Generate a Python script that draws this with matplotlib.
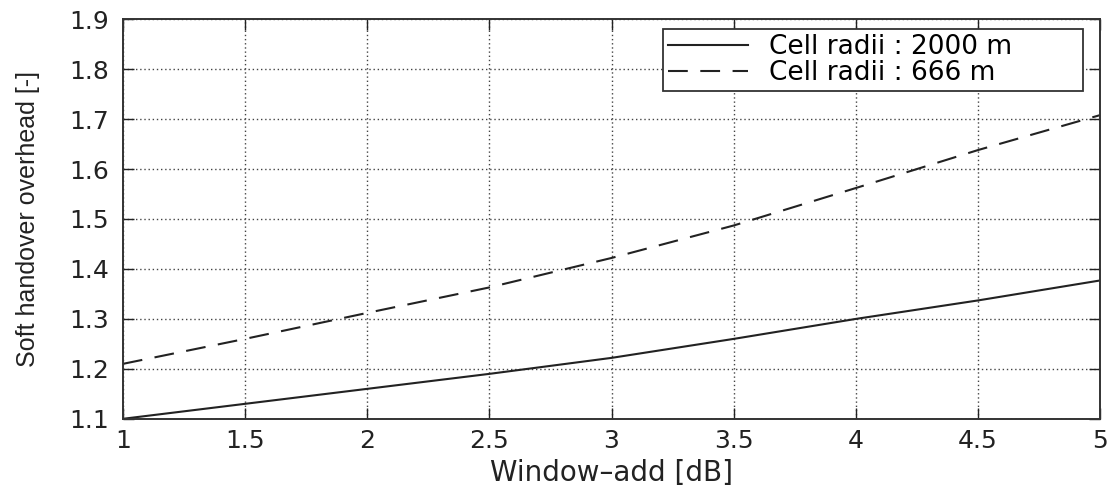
import numpy as np
import matplotlib.pyplot as plt

# soft handover overhead vs. window-add threshold
window_add = [1.0, 1.5, 2.0, 2.5, 3.0, 3.5, 4.0, 4.5, 5.0]
overhead_2000 = [1.10, 1.13, 1.16, 1.19, 1.222, 1.26, 1.30, 1.337, 1.377]
overhead_666 = [1.21, 1.26, 1.312, 1.363, 1.422, 1.487, 1.562, 1.638, 1.708]

x_ticks = [1, 1.5, 2, 2.5, 3, 3.5, 4, 4.5, 5]
y_ticks = [1.1, 1.2, 1.3, 1.4, 1.5, 1.6, 1.7, 1.8, 1.9]

plt.rcParams['font.family'] = ['DejaVu Sans']

fig = plt.figure(figsize=(11.17, 4.91), dpi=100)
ax = fig.add_axes([0.110, 0.147, 0.875, 0.814])

ax.plot(window_add, overhead_2000, color='#222222', lw=1.5, label='Cell radii : 2000 m')
ax.plot(window_add, overhead_666, color='#222222', lw=1.5, dashes=(9.5, 6),
        label='Cell radii : 666 m')

ax.set_xlim(1, 5)
ax.set_ylim(1.1, 1.9)
ax.set_xticks(x_ticks)
ax.set_xticklabels(['1', '1.5', '2', '2.5', '3', '3.5', '4', '4.5', '5'])
ax.set_yticks(y_ticks)
ax.set_yticklabels([f'{v:.1f}' for v in y_ticks])

ax.grid(True, color='#444444', linestyle=(0, (1, 2)), linewidth=1.0)
ax.tick_params(direction='in', length=8, width=1.0, top=True, right=True,
               labelsize=18, colors='#222222')
ax.tick_params(axis='y', pad=10)
ax.tick_params(axis='x', pad=7)
for s in ax.spines.values():
    s.set_color('#333333')
    s.set_linewidth(1.4)

ax.set_xlabel('Window\u2013add [dB]', fontsize=20, color='#222222', va='top')
ax.xaxis.set_label_coords(0.5, -0.100)
ax.set_ylabel('Soft handover overhead [-]', fontsize=18, color='#222222',
              family=['Liberation Sans', 'DejaVu Sans'])
ax.yaxis.set_label_coords(-0.085, 0.5)

# legend box stretched across the upper right cells
leg = ax.legend(loc='upper left', bbox_to_anchor=(0.5527, 0.5, 0.4299, 0.4757),
                mode='expand', borderaxespad=0, fontsize=19, fancybox=False,
                framealpha=1, edgecolor='#333333', handlelength=3.0,
                borderpad=0.2, labelspacing=0.0, handletextpad=0.8)
leg.get_frame().set_linewidth(1.3)

fig.savefig('out.png', dpi=100)
